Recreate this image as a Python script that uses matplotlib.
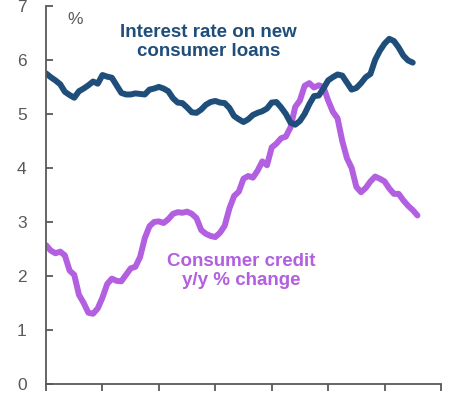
import numpy as np
import matplotlib
matplotlib.use("Agg")
import matplotlib.pyplot as plt
from matplotlib import rcParams as parameters

parameters['font.family'] = ['Liberation Sans', 'DejaVu Sans']

# monthly readings, first month at the left spine
interest_rate = [
    5.75, 5.68, 5.62, 5.55, 5.41, 5.35, 5.30, 5.42, 5.47, 5.53,
    5.60, 5.56, 5.72, 5.69, 5.67, 5.53, 5.39, 5.36, 5.36, 5.38,
    5.37, 5.36, 5.45, 5.47, 5.50, 5.47, 5.42, 5.29, 5.21, 5.20,
    5.12, 5.03, 5.02, 5.08, 5.17, 5.22, 5.24, 5.21, 5.20, 5.11,
    4.96, 4.90, 4.85, 4.90, 4.98, 5.02, 5.05, 5.10, 5.21, 5.22,
    5.12, 5.00, 4.84, 4.80, 4.87, 5.00, 5.18, 5.33, 5.34, 5.47,
    5.62, 5.68, 5.73, 5.71, 5.58, 5.45, 5.48, 5.57, 5.68, 5.74,
    6.00, 6.17, 6.30, 6.39, 6.35, 6.23, 6.08, 5.99, 5.95,
]

consumer_credit = [
    2.57, 2.47, 2.42, 2.45, 2.38, 2.10, 2.02, 1.65, 1.50, 1.32,
    1.30, 1.40, 1.60, 1.85, 1.95, 1.91, 1.90, 2.02, 2.14, 2.17,
    2.35, 2.70, 2.92, 3.00, 3.01, 2.98, 3.05, 3.15, 3.18, 3.17,
    3.19, 3.15, 3.07, 2.85, 2.78, 2.74, 2.72, 2.80, 2.93, 3.25,
    3.48, 3.56, 3.80, 3.85, 3.82, 3.95, 4.12, 4.05, 4.38, 4.45,
    4.55, 4.58, 4.75, 5.13, 5.25, 5.52, 5.57, 5.49, 5.53, 5.50,
    5.25, 5.04, 4.92, 4.50, 4.18, 4.00, 3.65, 3.55, 3.63, 3.75,
    3.84, 3.80, 3.75, 3.62, 3.52, 3.52, 3.40, 3.30, 3.22, 3.12,
]

y_ticks = [0, 1, 2, 3, 4, 5, 6, 7]
x_ticks = list(range(0, 85, 12))

blue = '#1f4e7a'
purple = '#b25fe0'
grey = '#595959'

fig = plt.figure(figsize=(4.56, 3.93), dpi=100)
ax = fig.add_axes([0.101, 0.023, 0.866, 0.962])

ax.plot(np.arange(len(consumer_credit)), consumer_credit, color=purple,
        lw=4.3, solid_capstyle='round', solid_joinstyle='round')
ax.plot(np.arange(len(interest_rate)), interest_rate, color=blue,
        lw=4.3, solid_capstyle='round', solid_joinstyle='round')

ax.set_xlim(0, 84)
ax.set_ylim(0, 7)
ax.set_xticks(x_ticks)
ax.set_xticklabels([])
ax.set_yticks(y_ticks)

for side in ['top', 'right']:
    ax.spines[side].set_visible(False)
for side in ['left', 'bottom']:
    ax.spines[side].set_color(grey)
    ax.spines[side].set_linewidth(1.3)

ax.tick_params(axis='y', direction='in', length=5, width=1.3, color=grey,
               labelcolor=grey, labelsize=12.5, pad=14)
ax.tick_params(axis='x', direction='out', length=5, width=1.3, color=grey)

# "%" unit label, in pixels from the bottom left corner
ax.text(75, 373, '%', transform=None, fontsize=12.5, color=grey,
        ha='center', va='center')

ax.text(34.6, 6.33, 'Interest rate on new\nconsumer loans', color=blue,
        fontsize=13.5, fontweight='bold', ha='center', va='center',
        linespacing=1.1)
ax.text(41.6, 2.09, 'Consumer credit\ny/y % change', color=purple,
        fontsize=13.5, fontweight='bold', ha='center', va='center',
        linespacing=1.1)

plt.savefig('out.png', dpi=100)
plt.close()
